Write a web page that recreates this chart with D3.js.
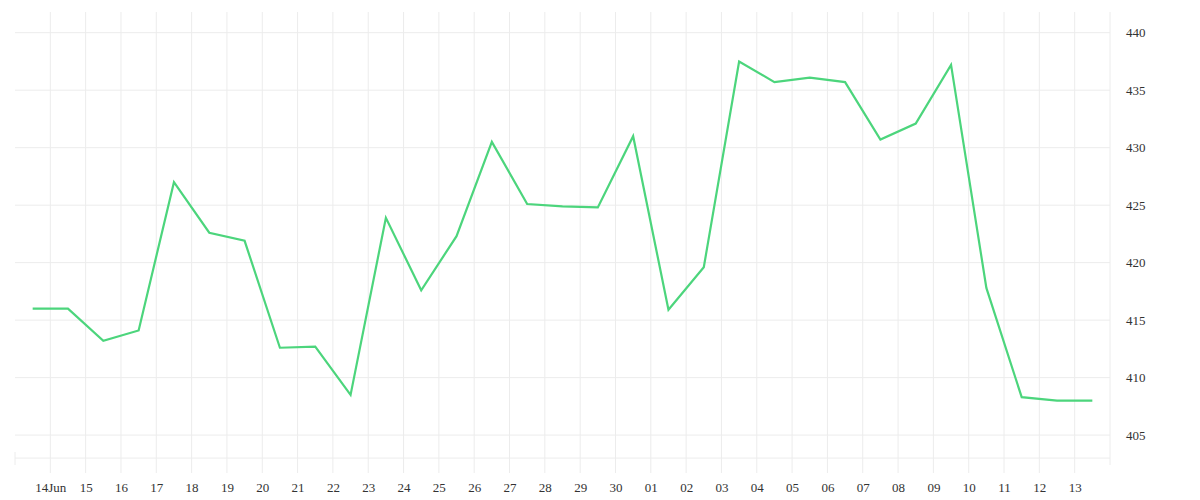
<!DOCTYPE html><html><head><meta charset="utf-8"><script src="https://cdn.jsdelivr.net/npm/d3@7"></script>
<style>body{margin:0;background:#fff}text{font-family:"Liberation Serif",serif;font-size:13px;fill:#333}</style></head><body><svg id="c" width="1200" height="500"></svg><script>
const dates=["2024-06-13","2024-06-14","2024-06-15","2024-06-16","2024-06-17","2024-06-18","2024-06-19","2024-06-20","2024-06-21","2024-06-22","2024-06-23","2024-06-24","2024-06-25","2024-06-26","2024-06-27","2024-06-28","2024-06-29","2024-06-30","2024-07-01","2024-07-02","2024-07-03","2024-07-04","2024-07-05","2024-07-06","2024-07-07","2024-07-08","2024-07-09","2024-07-10","2024-07-11","2024-07-12","2024-07-13"];
const values=[416.0,416.0,413.2,414.1,427.0,422.6,421.9,412.6,412.7,408.5,423.9,417.6,422.3,430.5,425.1,424.9,424.8,431.0,415.9,419.6,437.5,435.7,436.1,435.7,430.7,432.1,437.2,417.8,408.3,408.0,408.0];
const yTicks=[405,410,415,420,425,430,435,440];
const svg=d3.select("#c");
const L=15,R=1110,T=12,B=465;
const p=d3.timeParse("%Y-%m-%d");
const data=dates.map((d,i)=>({t:d3.timeHour.offset(p(d),12),v:values[i]}));
const x=d3.scaleTime().domain([p("2024-06-13"),p("2024-07-14")]).range([L,R]);
const y=d3.scaleLinear().domain([402.4,441.8]).range([B,T]);
const days=d3.timeDay.range(p("2024-06-14"),p("2024-07-14"));
const g=svg.append("g");
g.selectAll(".v").data(days).join("line").attr("x1",d=>x(d)).attr("x2",d=>x(d)).attr("y1",T).attr("y2",B+8).attr("stroke","#ececec");
g.append("line").attr("x1",R).attr("x2",R).attr("y1",T).attr("y2",B).attr("stroke","#ececec");
g.append("line").attr("x1",L).attr("x2",L).attr("y1",T+440/1).attr("y2",B).attr("stroke","#ececec");
g.selectAll(".h").data(yTicks.concat([403])).join("line").attr("x1",L).attr("x2",R).attr("y1",d=>y(d)).attr("y2",d=>y(d)).attr("stroke","#ececec");
const xa=svg.append("g").attr("transform",`translate(0,${B})`).call(d3.axisBottom(x).tickValues(days).tickSize(0).tickPadding(18).tickFormat(d=>d.getDate()===14&&d.getMonth()===5?"14Jun":d3.timeFormat("%d")(d)));
xa.select(".domain").remove();
const ya=svg.append("g").attr("transform",`translate(${R},0)`).call(d3.axisRight(y).tickValues(yTicks).tickSize(0).tickPadding(16));
ya.select(".domain").remove();
svg.selectAll(".tick text").style("font-family","Liberation Serif").style("font-size","13px").attr("fill","#333");
svg.append("path").datum(data).attr("fill","none").attr("stroke","#4cd57c").attr("stroke-width",2.2).attr("d",d3.line().x(d=>x(d.t)).y(d=>y(d.v)));
</script></body></html>
